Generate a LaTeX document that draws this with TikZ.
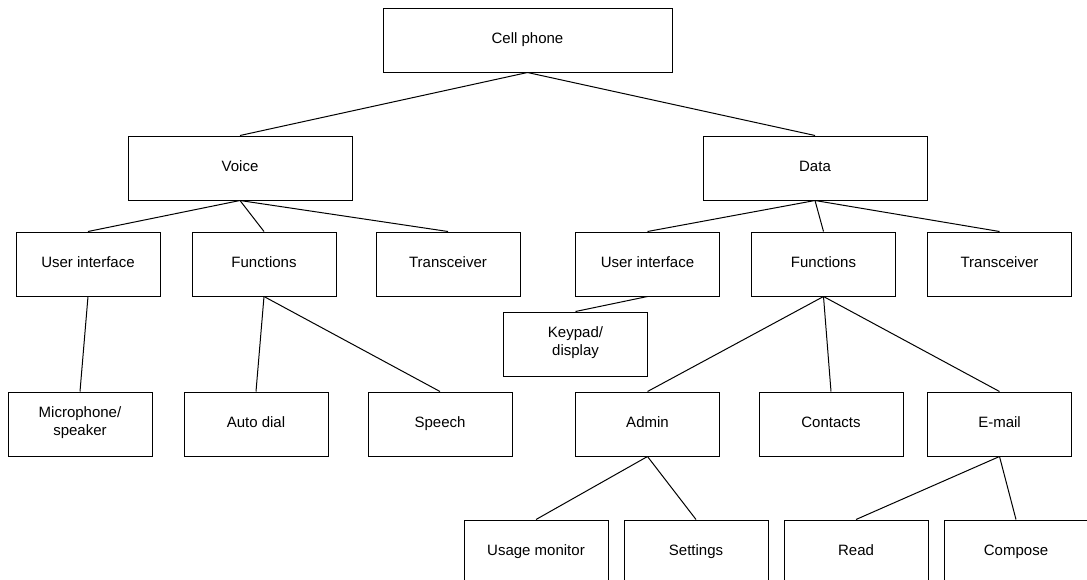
\documentclass[tikz,border=0pt]{standalone}
\usepackage{fontspec}
\setmainfont{Liberation Sans}
\begin{document}
\begin{tikzpicture}
[x=1pt,y=-1pt,line width=1pt,every node/.style={rectangle,draw=black,fill=white,inner sep=0pt,minimum width=144pt,minimum height=64pt,align=center,font=\fontsize{15}{18}\selectfont,execute at begin node=\strut,execute at end node=\strut}]
\useasboundingbox (0,0) rectangle (1087,579);
\node (cell) at (527.5,40) [minimum width=289pt] {Cell phone};
\node (voice) at (240,168) [minimum width=224pt] {Voice};
\node (data) at (815,168) [minimum width=224pt] {Data};
\node (vui) at (88,264) {User interface};
\node (vfun) at (264,264) {Functions};
\node (vtrx) at (448,264) {Transceiver};
\node (dui) at (647.5,264) {User interface};
\node (dfun) at (823.5,264) {Functions};
\node (dtrx) at (999.5,264) {Transceiver};
\node (keypad) at (575.5,344) {Keypad/\\display};
\node (mic) at (80,424) {Microphone/\\speaker};
\node (autodial) at (256,424) {Auto dial};
\node (speech) at (440,424) {Speech};
\node (admin) at (647.5,424) {Admin};
\node (contacts) at (831,424) {Contacts};
\node (email) at (999.5,424) {E-mail};
\node (usage) at (536,552) {Usage monitor};
\node (settings) at (696,552) {Settings};
\node (read) at (856,552) {Read};
\node (compose) at (1016,552) {Compose};
\draw (cell.south) to (voice.north);
\draw (cell.south) to (data.north);
\draw (voice.south) to (vui.north);
\draw (voice.south) to (vfun.north);
\draw (voice.south) to (vtrx.north);
\draw (data.south) to (dui.north);
\draw (data.south) to (dfun.north);
\draw (data.south) to (dtrx.north);
\draw (vui.south) to (mic.north);
\draw (vfun.south) to (autodial.north);
\draw (vfun.south) to (speech.north);
\draw (dui.south) to (keypad.north);
\draw (dfun.south) to (admin.north);
\draw (dfun.south) to (contacts.north);
\draw (dfun.south) to (email.north);
\draw (admin.south) to (usage.north);
\draw (admin.south) to (settings.north);
\draw (email.south) to (read.north);
\draw (email.south) to (compose.north);
\end{tikzpicture}
\end{document}
